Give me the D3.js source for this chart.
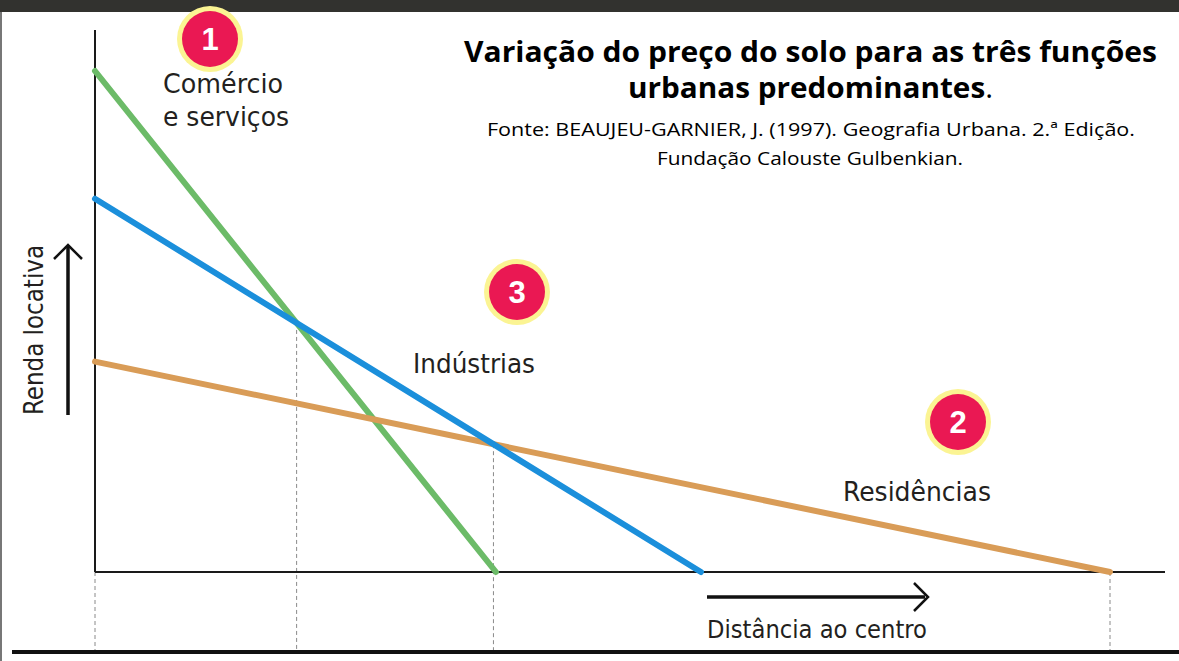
<!DOCTYPE html>
<html>
<head>
<meta charset="utf-8">
<script src="https://cdn.jsdelivr.net/npm/d3@7"></script>
<style>
  html, body { margin: 0; padding: 0; background: #fff; }
  #chart { width: 1179px; height: 661px; }
  .note { font-family: "DejaVu Sans", sans-serif; font-stretch: condensed; }
</style>
</head>
<body>
<div id="chart"></div>
<script>
// funções urbanas (ordem dos números 1, 2, 3)
var functions = ["Comércio e serviços", "Residências", "Indústrias"];
var badges = ["1", "2", "3"];
// renda locativa no centro (unidades relativas)
var rentAtCentre = [10, 4.2, 7.45];
// distância ao centro onde a renda chega a zero
var zeroDistance = [3.95, 10, 5.97];
var xDomain = [0, 10];
var yDomain = [0, 10];

var width = 1179, height = 661;

var svg = d3.select("#chart").append("svg")
  .attr("width", width)
  .attr("height", height);

var x = d3.scaleLinear().domain(xDomain).range([95, 1110]);
var y = d3.scaleLinear().domain(yDomain).range([572, 71]);

var lineColor = ["#6cbb68", "#d99c57", "#1b8fdb"];

// moldura da imagem
svg.append("rect").attr("x", 0).attr("y", 0).attr("width", width).attr("height", 12).attr("fill", "#32322f");
svg.append("rect").attr("x", 0).attr("y", 12).attr("width", 2).attr("height", height - 12).attr("fill", "#777");
svg.append("line")
  .attr("x1", 12).attr("x2", width)
  .attr("y1", 652).attr("y2", 652)
  .attr("stroke", "#111").attr("stroke-width", 4);

function rentAt(i, d) {
  return Math.max(0, rentAtCentre[i] * (1 - d / zeroDistance[i]));
}
function crossing(a, b) {
  var sa = rentAtCentre[a] / zeroDistance[a], sb = rentAtCentre[b] / zeroDistance[b];
  return (rentAtCentre[a] - rentAtCentre[b]) / (sa - sb);
}

// linhas de referência tracejadas
var guides = [
  { d: 0, top: 0 },
  { d: crossing(0, 2), top: null },
  { d: crossing(2, 1), top: null },
  { d: zeroDistance[1], top: 0 }
];
guides.forEach(function (g) {
  if (g.top === null) g.top = rentAt(2, g.d);
});

svg.selectAll(".guide")
  .data(guides)
  .enter().append("line")
  .attr("class", "guide")
  .attr("x1", function (g) { return x(g.d); })
  .attr("x2", function (g) { return x(g.d); })
  .attr("y1", function (g) { return y(g.top); })
  .attr("y2", 650)
  .attr("stroke", "#8a8a8a")
  .attr("stroke-width", 1)
  .attr("stroke-dasharray", "4,3");

// eixos
svg.append("line")
  .attr("x1", x(0)).attr("x2", x(0))
  .attr("y1", 30).attr("y2", y(0))
  .attr("stroke", "#1a1a1a").attr("stroke-width", 2);
svg.append("line")
  .attr("x1", x(0)).attr("x2", 1165)
  .attr("y1", y(0)).attr("y2", y(0))
  .attr("stroke", "#1a1a1a").attr("stroke-width", 2.2);

// retas da renda
var line = d3.line()
  .x(function (p) { return x(p[0]); })
  .y(function (p) { return y(p[1]); });

svg.selectAll(".rent")
  .data(functions)
  .enter().append("path")
  .attr("class", "rent")
  .attr("d", function (f, i) {
    return line([[0, rentAtCentre[i]], [zeroDistance[i], 0]]);
  })
  .attr("fill", "none")
  .attr("stroke", function (f, i) { return lineColor[i]; })
  .attr("stroke-width", 6)
  .attr("stroke-linecap", "round");

// rótulos das funções
var labelColor = "#231f20";
function label(txt, lx, ly, len, size) {
  svg.append("text")
    .attr("class", "note")
    .attr("x", lx).attr("y", ly)
    .attr("font-size", size || 26)
    .attr("fill", labelColor)
    .attr("textLength", len)
    .attr("lengthAdjust", "spacingAndGlyphs")
    .text(txt);
}
label("Comércio", 163, 93, 120);
label("e serviços", 163, 126, 126);
label("Residências", 843, 501, 148);
label("Indústrias", 413, 373, 122);

// números
var badgePos = [[210, 39], [958, 422], [517, 292]];
var badge = svg.selectAll(".badge")
  .data(badges)
  .enter().append("g")
  .attr("class", "badge")
  .attr("transform", function (b, i) { return "translate(" + badgePos[i][0] + "," + badgePos[i][1] + ")"; });
badge.append("circle").attr("r", 33).attr("fill", "#fbf493");
badge.append("circle").attr("r", 28).attr("fill", "#ea1853");
badge.append("text")
  .attr("text-anchor", "middle")
  .attr("dy", "0.36em")
  .attr("fill", "#fff")
  .attr("font-family", "'Liberation Sans', Arial, sans-serif")
  .attr("font-weight", "bold")
  .attr("font-size", 31)
  .text(function (b) { return b; });

// setas dos eixos
function arrow(x1, y1, x2, y2, hx) {
  svg.append("line")
    .attr("x1", x1).attr("y1", y1).attr("x2", x2).attr("y2", y2)
    .attr("stroke", "#111").attr("stroke-width", 3.5);
  svg.append("path")
    .attr("d", hx)
    .attr("fill", "none")
    .attr("stroke", "#111").attr("stroke-width", 2.5);
}
arrow(68, 415, 68, 247, "M54,259L68,245L82,259");
arrow(707, 597, 925, 597, "M914,583L928,597L914,611");

svg.append("text")
  .attr("class", "note")
  .attr("transform", "translate(43,415) rotate(-90)")
  .attr("font-size", 26)
  .attr("fill", labelColor)
  .attr("textLength", 170)
  .attr("lengthAdjust", "spacingAndGlyphs")
  .text("Renda locativa");

label("Distância ao centro", 707, 638, 220, 25);

// título e fonte
var titleFont = "'Open Sans', 'Noto Sans', sans-serif";
svg.append("text")
  .attr("x", 464).attr("y", 62)
  .attr("font-family", titleFont).attr("font-weight", "bold").attr("font-size", 29)
  .attr("fill", "#000")
  .attr("textLength", 693).attr("lengthAdjust", "spacingAndGlyphs")
  .text("Variação do preço do solo para as três funções");
var t2 = svg.append("text")
  .attr("x", 628).attr("y", 98)
  .attr("font-family", titleFont).attr("font-size", 29)
  .attr("fill", "#000")
  .attr("textLength", 365).attr("lengthAdjust", "spacingAndGlyphs");
t2.append("tspan").attr("font-weight", "bold").text("urbanas predominantes");
t2.append("tspan").text(".");

svg.append("text")
  .attr("x", 487).attr("y", 136)
  .attr("font-family", titleFont).attr("font-size", 19)
  .attr("fill", "#000")
  .attr("textLength", 648).attr("lengthAdjust", "spacingAndGlyphs")
  .text("Fonte: BEAUJEU-GARNIER, J. (1997). Geografia Urbana. 2.ª Edição.");
svg.append("text")
  .attr("x", 657).attr("y", 165)
  .attr("font-family", titleFont).attr("font-size", 19)
  .attr("fill", "#000")
  .attr("textLength", 306).attr("lengthAdjust", "spacingAndGlyphs")
  .text("Fundação Calouste Gulbenkian.");
</script>
</body>
</html>
